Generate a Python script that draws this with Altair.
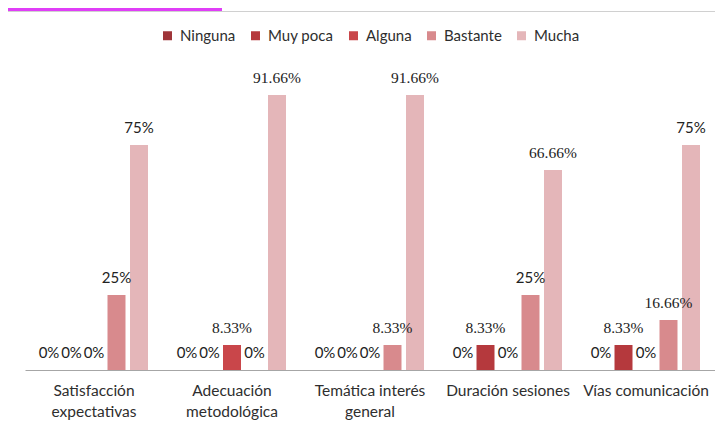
import altair as alt
import pandas as pd

categories = ["Satisfacción expectativas", "Adecuación metodológica",
              "Temática interés general", "Duración sesiones", "Vías comunicación"]
category_lines = [["Satisfacción", "expectativas"], ["Adecuación", "metodológica"],
                  ["Temática interés", "general"], ["Duración sesiones"], ["Vías comunicación"]]
levels = ["Ninguna", "Muy poca", "Alguna", "Bastante", "Mucha"]
ninguna = [0, 0, 0, 0, 0]
muy_poca = [0, 0, 0, 8.33, 8.33]
alguna = [0, 8.33, 0, 0, 0]
bastante = [25, 0, 8.33, 25, 16.66]
mucha = [75, 91.66, 91.66, 66.66, 75]
colors = ["#9f3539", "#b5393d", "#c9464a", "#d88a8d", "#e4b6b9"]

series = [ninguna, muy_poca, alguna, bastante, mucha]
rows = []
for lvl, vals in zip(levels, series):
    for cat, v in zip(categories, vals):
        rows.append({"cat": cat, "level": lvl, "value": v, "label": f"{v:g}%"})
df = pd.DataFrame(rows)

label_expr = ""
for cat, lines in zip(categories, category_lines):
    arr = "[" + ",".join(f"'{l}'" for l in lines) + "]"
    label_expr += f"datum.value == '{cat}' ? {arr} : "
label_expr += "datum.value"

x_enc = alt.X("cat:N", sort=categories,
              scale=alt.Scale(paddingInner=0, paddingOuter=0),
              axis=alt.Axis(title=None, labelAngle=0, ticks=False, domainColor="#a6a6a6",
                            labelFont="Lato", labelFontSize=15.5, labelColor="#2e2e2e",
                            labelPadding=13, labelLineHeight=21, labelExpr=label_expr,
                            labelBaseline="top"))
xoff = alt.XOffset("level:N", sort=levels,
                   scale=alt.Scale(paddingInner=0.2, paddingOuter=0.667))
y_enc = alt.Y("value:Q", scale=alt.Scale(domain=[0, 100]), axis=None)

base = alt.Chart(df)

bars = base.mark_bar().encode(
    x=x_enc, xOffset=xoff, y=y_enc,
    color=alt.Color("level:N", sort=levels,
                    scale=alt.Scale(domain=levels, range=colors),
                    legend=alt.Legend(title=None, orient="none", legendX=135, legendY=-42,
                                      direction="horizontal", symbolType="square",
                                      symbolSize=81, symbolStrokeWidth=0,
                                      labelFont="Lato", labelFontSize=15,
                                      labelColor="#2e2e2e", labelOffset=5,
                                      columnPadding=12)),
)

text_sans = base.transform_filter("indexof(datum.label, '.') < 0").mark_text(
    font="Lato", fontSize=15, color="#222222", baseline="alphabetic", dy=-12
).encode(x=x_enc, xOffset=xoff, y=y_enc, text="label:N")

text_serif = base.transform_filter("indexof(datum.label, '.') >= 0").mark_text(
    font="Liberation Serif", fontSize=15.5,
    color="#222222", baseline="alphabetic", dy=-12
).encode(x=x_enc, xOffset=xoff, y=y_enc, text="label:N")

one = alt.Chart(pd.DataFrame({"a": [0]}))
header = one.mark_rect(color="#e03ef7").encode(
    x=alt.value(-17), x2=alt.value(197), y=alt.value(-62), y2=alt.value(-59))
top_line = one.mark_rule(color="#d0d0d0", strokeWidth=1).encode(
    x=alt.value(-17), x2=alt.value(690), y=alt.value(-58.5))

chart = alt.layer(header, top_line, bars, text_sans, text_serif).properties(
    width=690, height=300,
    autosize=alt.AutoSizeParams(type="none"),
    padding={"left": 17, "top": 62, "right": 0, "bottom": 50},
    background="white",
).configure_view(stroke=None)

chart.save("out.html", embed_options={"renderer": "svg", "actions": False})
